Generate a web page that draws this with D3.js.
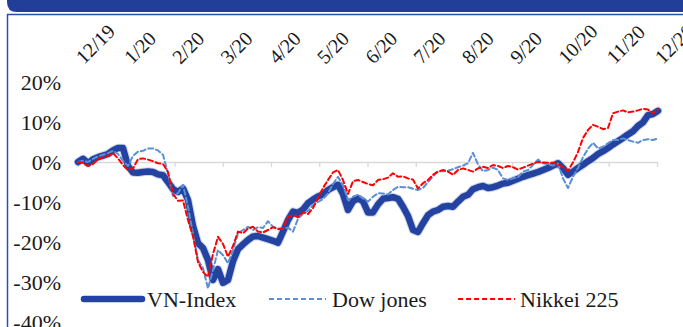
<!DOCTYPE html>
<html>
<head>
<meta charset="utf-8">
<script src="https://cdn.jsdelivr.net/npm/d3@7"></script>
<style>
  html, body { margin: 0; padding: 0; background: #fff; }
  svg { display: block; }
</style>
</head>
<body>
<div id="chart"></div>
<script>
// VN-Index vs Dow Jones vs Nikkei 225, % change since 12/2019

const months = ['12/19', '1/20', '2/20', '3/20', '4/20', '5/20', '6/20',
                '7/20', '8/20', '9/20', '10/20', '11/20', '12/20'];
const yTicks = [-40, -30, -20, -10, 0, 10, 20];

// values in %, sampled evenly from 12/19 to 12/20
const vnIndex = [
  0, 0.8, -0.3, 0.7, 1.2, 1.6, 2.0, 2.9, 3.5, 3.5,
  -1.0, -2.6, -2.7, -2.5, -2.4, -2.5, -3.1, -3.3, -5.0, -6.8,
  -7.5, -6.6, -9.5, -16, -20.3, -21.5, -24.5, -29.5, -26.8, -30.2,
  -29.5, -24.8, -21.8, -20.6, -19.5, -18.6, -18.5, -18.9, -19.3, -19.7,
  -20.2, -17.4, -14.5, -12.4, -12.7, -11.9, -10.3, -9.4, -8.6, -8.1,
  -7.0, -6.3, -5.7, -8.0, -12.0, -9.8, -9.1, -9.8, -12.6, -12.6,
  -10.6, -9.2, -9.0, -8.8, -9.2, -11.2, -13.5, -17.0, -17.5, -15.3,
  -13.3, -12.4, -12.0, -11.2, -11.0, -11.2, -9.9, -8.7, -8.2, -6.8,
  -6.3, -6.0, -6.5, -6.3, -5.9, -5.4, -5.2, -4.7, -4.2, -3.7,
  -3.3, -2.9, -2.5, -2.0, -1.5, -0.9, -0.3, -1.5, -3.2, -2.4,
  -1.5, -0.7, 0.2, 1.0, 2.0, 2.7, 3.5, 4.4, 5.2, 6.0,
  6.9, 7.7, 9.0, 9.9, 11.7, 12.0, 12.8
];
const dowJones = [
  0, 0.3, 0, 0.8, 1.4, 1.8, 2.2, 2.8, 2.0, 0.3,
  -1.0, 1.5, 2.6, 2.8, 3.4, 3.4, 2.9, 1.8, -2.8, -8.5,
  -7.8, -5.7, -11.2, -18.0, -24.5, -26.5, -31.6, -27.0, -22.0, -23.3,
  -25.3, -22.0, -17.8, -17.0, -16.2, -17.0, -16.3, -16.5, -14.8, -16.2,
  -16.6, -16.6, -16.4, -17.4, -14.2, -12.9, -12.2, -10.8, -10.0, -9.3,
  -7.8, -5.5, -3.7, -5.8, -9.5, -8.7, -8.2, -9.1, -9.9, -8.7,
  -7.8, -7.9, -8.1, -7.0, -6.2, -6.3, -6.3, -6.7, -7.0, -6.5,
  -5.0, -3.6, -2.3, -2.3, -2.2, -1.8, -1.3, -0.9, -0.3, 2.3,
  -0.6, -2.3, -2.0, -1.4, -2.0, -4.1, -4.5, -4.1, -3.8, -2.4,
  -2.0, -0.75, 0.6, -0.3, -0.6, -0.9, -0.4, -4.1, -6.5, -3.7,
  -1.5, 1.2, 3.3, 4.8, 3.4, 3.8, 4.7, 5.5, 5.5, 5.9,
  5.5, 5.1, 4.8, 5.5, 5.7, 5.5, 5.9
];
const nikkei225 = [
  0, -0.2, -1.0, -0.5, 0.7, 1.2, 1.6, 2.2, 0.9, -0.8,
  -2.0, -1.6, 0.7, 0.9, 0.6, 0.2, -0.3, -0.5, -2.5, -8.0,
  -9.7, -9.6, -14.5, -18.5, -25.0, -27.5, -28.7, -23.0, -18.7, -20.5,
  -23.7, -21.0, -17.4, -17.8, -16.6, -16.2, -17.4, -17.6, -17.0, -16.3,
  -16.8, -16.6, -13.7, -13.3, -13.8, -12.6, -13.0, -11.5, -9.0, -6.5,
  -4.5, -2.6, -2.0, -4.5, -8.0, -4.8, -4.5, -5.0, -5.5, -5.8,
  -4.5, -4.3, -3.9, -2.8, -3.7, -3.6, -4.1, -4.4, -6.6, -5.3,
  -4.5, -3.2, -2.4, -2.0, -2.4, -3.2, -2.0, -1.6, -2.0, -2.4,
  -1.6, -1.2, -1.5, -0.75, -1.0, -1.5, -1.0, -1.3, -1.9, -1.4,
  -0.9, -0.4, 0.0, -0.1, -0.2, -0.2, -0.6, -1.2, -2.2, -0.1,
  2.5, 6.0, 8.0, 9.3, 8.8, 8.2, 8.5, 12.2, 12.6, 12.9,
  12.4, 12.6, 12.9, 13.3, 13.1, 12.2, 13.2
];

const seriesNames = ['VN-Index', 'Dow jones', 'Nikkei 225'];

const W = 683, H = 327;
const FONT = '"Liberation Serif", "Times New Roman", serif';

const svg = d3.select('#chart').append('svg')
  .attr('width', W)
  .attr('height', H);

// header band + frame
svg.append('path')
  .attr('d', 'M7,0 H683 V12 H17 Q7,12 7,2 Z')
  .attr('fill', '#213f99');
svg.append('path')
  .attr('d', 'M7.5,' + H + ' V14.5 H' + W)
  .attr('fill', 'none')
  .attr('stroke', '#2b4fae')
  .attr('stroke-width', 1.5);

const x = d3.scaleLinear().domain([0, vnIndex.length - 1]).range([78, 658]);
const xMonth = d3.scalePoint().domain(months).range([78, 657]);
const y = d3.scaleLinear().domain([-40, 20]).range([322, 82]);

// zero axis with month ticks
const xAxis = svg.append('g')
  .attr('transform', `translate(0,${y(0)})`)
  .call(d3.axisBottom(xMonth).tickSize(5).tickSizeOuter(0).tickFormat(''));
xAxis.select('.domain').attr('stroke', '#d9d9d9').attr('stroke-width', 1.3);
xAxis.selectAll('.tick line').attr('stroke', '#d9d9d9').attr('stroke-width', 1.3);

// month labels along the top
svg.append('g')
  .selectAll('text')
  .data(months)
  .join('text')
  .attr('transform', d => `translate(${xMonth(d) + 6},65) rotate(-45)`)
  .attr('font-family', FONT)
  .attr('font-size', 20)
  .attr('fill', '#1a1a1a')
  .text(d => d);

// y labels
const yAxis = svg.append('g')
  .attr('transform', 'translate(61,0)')
  .call(d3.axisLeft(y).tickValues(yTicks).tickSize(0).tickPadding(0).tickFormat(d => d + '%'));
yAxis.select('.domain').remove();
yAxis.selectAll('text')
  .attr('font-family', FONT)
  .attr('font-size', 22)
  .attr('fill', '#1a1a1a');

const line = d3.line()
  .x((d, i) => x(i))
  .y(d => y(d))
  .curve(d3.curveLinear);

const styles = [
  { data: vnIndex, color: '#2443a0', width: 6.5, dash: null, halo: '#8ea0d4' },
  { data: dowJones, color: '#5b8fd4', width: 2, dash: '5,3' },
  { data: nikkei225, color: '#ff0000', width: 2, dash: '5,3' }
];

styles.forEach(s => {
  if (s.halo) {
    // soft edge around the thick line
    svg.append('path')
      .datum(s.data)
      .attr('d', line)
      .attr('fill', 'none')
      .attr('stroke', s.halo)
      .attr('stroke-opacity', 0.45)
      .attr('stroke-width', s.width + 2)
      .attr('stroke-linejoin', 'round')
      .attr('stroke-linecap', 'round');
  }
  svg.append('path')
    .datum(s.data)
    .attr('d', line)
    .attr('fill', 'none')
    .attr('stroke', s.color)
    .attr('stroke-width', s.width)
    .attr('stroke-linejoin', 'round')
    .attr('stroke-linecap', 'round')
    .attr('stroke-dasharray', s.dash);
});

// legend
const legendPos = [
  { x1: 84, x2: 142, tx: 147 },
  { x1: 269, x2: 326, tx: 332 },
  { x1: 458, x2: 515, tx: 520 }
];
const legend = svg.append('g');
styles.forEach((s, i) => {
  const p = legendPos[i];
  legend.append('line')
    .attr('x1', p.x1).attr('x2', p.x2)
    .attr('y1', 299).attr('y2', 299)
    .attr('stroke', s.color)
    .attr('stroke-width', s.width)
    .attr('stroke-linecap', s.dash ? 'butt' : 'round')
    .attr('stroke-dasharray', s.dash);
  legend.append('text')
    .attr('x', p.tx)
    .attr('y', 307)
    .attr('font-family', FONT)
    .attr('font-size', 22)
    .attr('fill', '#1a1a1a')
    .text(seriesNames[i]);
});
</script>
</body>
</html>
